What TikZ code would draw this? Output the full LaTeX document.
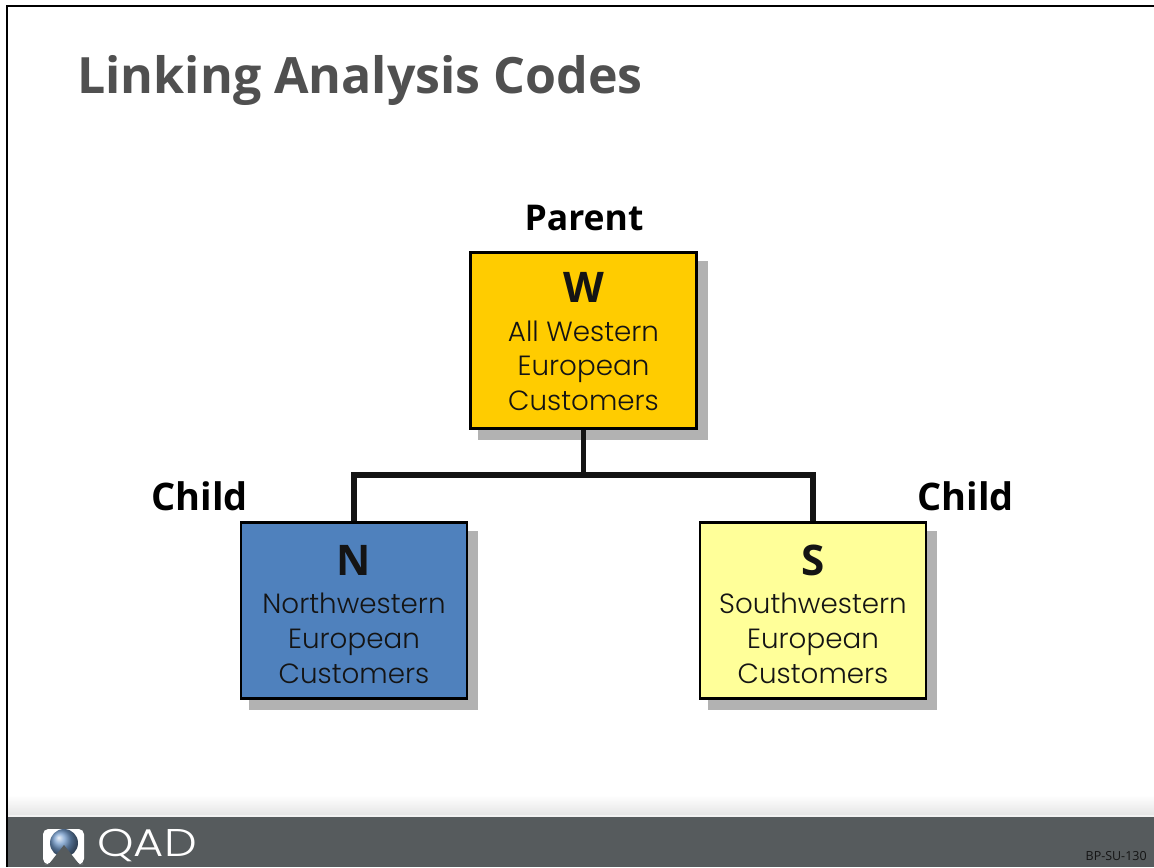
\documentclass[tikz,border=0pt]{standalone}
\usepackage{fontspec}
\setmainfont{Poppins}[UprightFont=* Light,BoldFont=* Medium]
\newfontfamily\labelfont{Open Sans}
\usepackage{tikz}
\usetikzlibrary{shadows}

\definecolor{titlegray}{HTML}{505050}
\definecolor{bargray}{HTML}{565B5D}
\definecolor{shadowgray}{HTML}{B2B2B2}
\definecolor{parentfill}{HTML}{FFCC00}
\definecolor{northfill}{HTML}{4F81BD}
\definecolor{southfill}{HTML}{FFFF99}
\definecolor{ink}{HTML}{141414}

\newcommand{\boxtext}[3]{{\fontsize{24pt}{24pt}\labelfont\bfseries\rule{0pt}{#1}#2}\\[2.1pt]#3}

\begin{document}
\begin{tikzpicture}
    [
      x=0.02cm,y=-0.02cm,
      region/.style={draw=black,line width=1.4pt,minimum width=4.52cm,minimum height=3.52cm,
        inner sep=0pt,align=center,text=ink,font=\fontsize{15.8pt}{19.7pt}\selectfont,
        drop shadow={shadow xshift=0.19cm,shadow yshift=-0.2cm,shadow scale=1.005,
          draw=shadowgray,fill=shadowgray,opacity=1}},
      role/.style={font=\fontsize{20.2pt}{24pt}\labelfont\bfseries,text=black,inner sep=0pt},
      childrole/.style={role,font=\fontsize{21.6pt}{24pt}\labelfont\bfseries},
      link/.style={line width=3.4pt,draw=ink},
    ]

    \useasboundingbox (0,0) rectangle (1154,867);

    % frame and footer
    \draw [black,line width=1.4pt] (7,867) -- (7,6) -- (1154,6);
    \shade [top color=white,bottom color=black!10] (8,795) rectangle (1154,815);
    \fill [bargray] (8,817) rectangle (1154,867);
    \fill [black!5] (8,815) rectangle (1154,817);

    % logo
    \fill [white,rounded corners=3pt] (43,829) -- (84,829) -- (84,864) -- (78,864) -- (64,850) -- (50,864) -- (43,864) -- cycle;
    \shade [ball color=northfill!80!white] (64,843) circle (14);
    \fill [bargray] (49,864) -- (64,845) -- (79,864) -- cycle;
    \node (logo-text) [text=white,inner sep=0pt,xscale=1.2] at (147,845) {\fontsize{22pt}{22pt}\selectfont QAD};

    \node (title) [anchor=west,inner sep=0pt,text=titlegray] at (77,80) {\fontsize{28.5pt}{34pt}\labelfont\bfseries Linking Analysis Codes};
    \node (code) [anchor=east,inner sep=0pt,text=ink] at (1147,856) {\fontsize{7.1pt}{8pt}\labelfont BP-SU-130};

    \node (parent) [region,fill=parentfill] at (583.5,340.5) {\boxtext{18.3pt}{W}{All Western\\European\\Customers}};
    \node (north) [region,fill=northfill] at (354,610.5) {\boxtext{21.7pt}{N}{Northwestern\\European\\Customers}};
    \node (south) [region,fill=southfill] at (813,610.5) {\boxtext{21.7pt}{S}{Southwestern\\European\\Customers}};

    \node (parent-role) [role] at (584,218) {Parent};
    \node (north-role) [childrole] at (199.5,496) {Child};
    \node (south-role) [childrole] at (965.5,496) {Child};

    \coordinate (bus) at (583.5,475);

    \draw [link] (parent.south) -- (bus);
    \draw [link] (bus) -| (north.north);
    \draw [link] (bus) -| (south.north);

  \end{tikzpicture}
\end{document}
